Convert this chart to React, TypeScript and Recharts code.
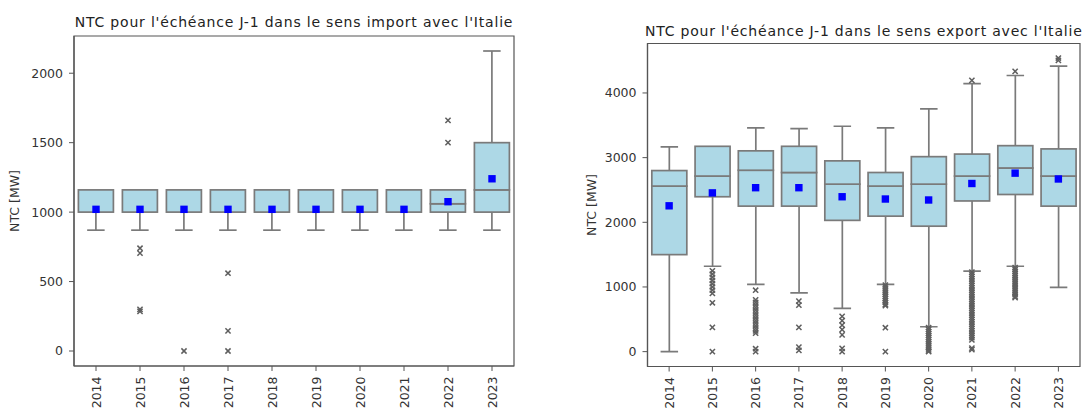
import { Bar, ComposedChart, ReferenceArea, Scatter, XAxis, YAxis } from "recharts";

const years = ["2014", "2015", "2016", "2017", "2018", "2019", "2020", "2021", "2022", "2023"];

// NTC J-1, import direction (MW)
const importLow = [870, 870, 870, 870, 870, 870, 870, 870, 870, 870];
const importQ1 = [1000, 1000, 1000, 1000, 1000, 1000, 1000, 1000, 1000, 1000];
const importMedian = [1000, 1000, 1000, 1000, 1000, 1000, 1000, 1000, 1060, 1160];
const importQ3 = [1160, 1160, 1160, 1160, 1160, 1160, 1160, 1160, 1160, 1500];
const importHigh = [1160, 1160, 1160, 1160, 1160, 1160, 1160, 1160, 1160, 2160];
const importMean = [1020, 1020, 1020, 1020, 1020, 1020, 1020, 1020, 1075, 1240];
const importFliers: Record<string, number[]> = {
  "2015": [740, 705, 300, 285],
  "2016": [0],
  "2017": [560, 145, 0],
  "2022": [1660, 1500],
};
const importTicks = [0, 500, 1000, 1500, 2000];
const importDomain: [number, number] = [-108, 2268];

// NTC J-1, export direction (MW)
const exportLow = [0, 1320, 1040, 910, 670, 1040, 385, 1245, 1320, 995];
const exportQ1 = [1500, 2395, 2250, 2250, 2030, 2095, 1940, 2330, 2430, 2250];
const exportMedian = [2560, 2715, 2805, 2770, 2590, 2560, 2590, 2715, 2840, 2715];
const exportQ3 = [2800, 3175, 3105, 3175, 2950, 2770, 3015, 3055, 3185, 3135];
const exportHigh = [3165, 3175, 3460, 3450, 3485, 3460, 3755, 4145, 4270, 4415];
const exportMean = [2255, 2455, 2535, 2535, 2395, 2360, 2345, 2600, 2760, 2670];
const exportFliers: Record<string, number[]> = {
  "2015": [1250, 1200, 1150, 1100, 1050, 1000, 950, 900, 755, 375, 0],
  "2016": [950, 800, 760, 720, 680, 640, 600, 560, 520, 480, 440, 400, 360, 320, 285, 45, 0],
  "2017": [780, 720, 375, 70, 20],
  "2018": [545, 480, 410, 340, 260, 50, 0],
  "2019": [1030, 1000, 970, 940, 910, 880, 850, 820, 790, 760, 730, 710, 370, 0],
  "2020": [370, 340, 310, 280, 250, 220, 190, 160, 130, 100, 70, 40, 10, 0],
  "2021": [
    4195, 1230, 1195, 1160, 1125, 1090, 1055, 1020, 985, 950, 915, 880, 845, 810, 775, 740, 705, 670,
    635, 600, 565, 530, 495, 460, 425, 390, 355, 320, 285, 250, 215, 180, 55, 30,
  ],
  "2022": [4335, 1300, 1270, 1240, 1210, 1180, 1150, 1120, 1090, 1060, 1030, 1000, 970, 940, 910, 880, 850, 835],
  "2023": [4540, 4505],
};
const exportTicks = [0, 1000, 2000, 3000, 4000];
const exportDomain: [number, number] = [-230, 4765];

const FONT = "'DejaVu Sans', sans-serif";
const BOX_FILL = "#add8e6";
const EDGE = "#7a7a7a";
const AXIS = "#555";
const TEXT = "#333";

type Stats = { low: number[]; q1: number[]; median: number[]; q3: number[]; high: number[]; mean: number[] };

// stacked segments: invisible base, lower whisker, two halves of the box, upper whisker
function buildRows(s: Stats) {
  return years.map((year, i) => ({
    year,
    base: s.low[i],
    lowerWhisker: s.q1[i] - s.low[i],
    lowerBox: s.median[i] - s.q1[i],
    upperBox: s.q3[i] - s.median[i],
    upperWhisker: s.high[i] - s.q3[i],
    mean: s.mean[i],
  }));
}

function buildFliers(f: Record<string, number[]>) {
  return years.flatMap((year) => (f[year] ?? []).map((value) => ({ year, value })));
}

const BoxHalf = (props: any) => {
  const { x, y, width, height } = props;
  if (height == null || height <= 0) return <g />;
  return <rect x={x} y={y} width={width} height={height} fill={BOX_FILL} stroke={EDGE} strokeWidth={1.7} />;
};

const LowerWhisker = (props: any) => {
  const { x, y, width, height } = props;
  if (height == null || height <= 0) return <g />;
  const cx = x + width / 2;
  const bottom = y + height;
  return (
    <g stroke={EDGE} strokeWidth={1.7}>
      <line x1={cx} x2={cx} y1={y} y2={bottom} />
      <line x1={cx - width / 4} x2={cx + width / 4} y1={bottom} y2={bottom} />
    </g>
  );
};

const UpperWhisker = (props: any) => {
  const { x, y, width, height } = props;
  if (height == null || height <= 0) return <g />;
  const cx = x + width / 2;
  return (
    <g stroke={EDGE} strokeWidth={1.7}>
      <line x1={cx} x2={cx} y1={y} y2={y + height} />
      <line x1={cx - width / 4} x2={cx + width / 4} y1={y} y2={y} />
    </g>
  );
};

const MeanMarker = (props: any) => {
  const { cx, cy } = props;
  if (cx == null || cy == null) return <g />;
  return <rect x={cx - 3.7} y={cy - 3.7} width={7.4} height={7.4} fill="#0000ff" />;
};

const FlierMarker = (props: any) => {
  const { cx, cy } = props;
  if (cx == null || cy == null) return <g />;
  const r = 2.6;
  return (
    <g stroke="#5e5e5e" strokeWidth={1.5}>
      <line x1={cx - r} x2={cx + r} y1={cy - r} y2={cy + r} />
      <line x1={cx - r} x2={cx + r} y1={cy + r} y2={cy - r} />
    </g>
  );
};

const YearTick = (props: any) => {
  const { x, y, payload } = props;
  const ty = y + 3.5;
  return (
    <text
      x={x}
      y={ty}
      transform={`rotate(-90 ${x} ${ty})`}
      textAnchor="end"
      dy="0.36em"
      fontSize={12.5}
      fontFamily={FONT}
      fill={TEXT}
    >
      {payload.value}
    </text>
  );
};

interface PanelProps {
  title: string;
  stats: Stats;
  fliers: Record<string, number[]>;
  domain: [number, number];
  ticks: number[];
  left: number;
  width: number;
  margin: { top: number; right: number; bottom: number; left: number };
  xAxisHeight: number;
  labelOffset: number;
  titleTop: number;
}

function BoxPanel({ title, stats, fliers, domain, ticks, left, width, margin, xAxisHeight, labelOffset, titleTop }: PanelProps) {
  const rows = buildRows(stats);
  const flierRows = buildFliers(fliers);
  const yAxisWidth = 60;
  const plotLeft = margin.left + yAxisWidth;
  const plotWidth = width - plotLeft - margin.right;

  return (
    <div style={{ position: "absolute", left, top: 0, width, height: 411 }}>
      <div
        style={{
          position: "absolute",
          left: plotLeft - 20,
          width: plotWidth + 40,
          top: titleTop,
          textAlign: "center",
          fontFamily: FONT,
          fontSize: 14,
          letterSpacing: 0.8,
          lineHeight: "16px",
          color: "#222",
          whiteSpace: "nowrap",
        }}
      >
        {title}
      </div>
      <ComposedChart width={width} height={411} data={rows} margin={margin} barCategoryGap="10%">
        <XAxis
          dataKey="year"
          type="category"
          allowDuplicatedCategory={false}
          interval={0}
          height={xAxisHeight}
          tickSize={5}
          tick={<YearTick />}
          axisLine={{ stroke: AXIS, strokeWidth: 1.2 }}
          tickLine={{ stroke: AXIS }}
        />
        <YAxis
          type="number"
          domain={domain}
          ticks={ticks}
          allowDataOverflow
          width={yAxisWidth}
          tickSize={5}
          tickMargin={6}
          tick={{ fontSize: 12.5, fill: TEXT, fontFamily: FONT }}
          axisLine={{ stroke: AXIS, strokeWidth: 1.2 }}
          tickLine={{ stroke: AXIS }}
          label={{
            value: "NTC [MW]",
            angle: -90,
            position: "insideLeft",
            offset: labelOffset,
            style: { textAnchor: "middle", fontSize: 12.5, fill: TEXT, fontFamily: FONT },
          }}
        />
        <Bar dataKey="base" stackId="box" fill="transparent" isAnimationActive={false} />
        <Bar dataKey="lowerWhisker" stackId="box" shape={LowerWhisker} isAnimationActive={false} />
        <Bar dataKey="lowerBox" stackId="box" shape={BoxHalf} isAnimationActive={false} />
        <Bar dataKey="upperBox" stackId="box" shape={BoxHalf} isAnimationActive={false} />
        <Bar dataKey="upperWhisker" stackId="box" shape={UpperWhisker} isAnimationActive={false} />
        <Scatter data={flierRows} dataKey="value" shape={FlierMarker} isAnimationActive={false} />
        <Scatter dataKey="mean" shape={MeanMarker} isAnimationActive={false} />
        <ReferenceArea y1={domain[0]} y2={domain[1]} fill="none" stroke={AXIS} strokeWidth={1.2} />
      </ComposedChart>
    </div>
  );
}

export default function App() {
  return (
    <div style={{ position: "absolute", left: 0, top: 0, width: 1083, height: 411, background: "#fff", overflow: "hidden" }}>
      <BoxPanel
        title="NTC pour l'échéance J-1 dans le sens import avec l'Italie"
        stats={{ low: importLow, q1: importQ1, median: importMedian, q3: importQ3, high: importHigh, mean: importMean }}
        fliers={importFliers}
        domain={importDomain}
        ticks={importTicks}
        left={0}
        width={540}
        margin={{ top: 36, right: 26, bottom: 0, left: 14 }}
        xAxisHeight={45}
        labelOffset={1}
        titleTop={14}
      />
      <BoxPanel
        title="NTC pour l'échéance J-1 dans le sens export avec l'Italie"
        stats={{ low: exportLow, q1: exportQ1, median: exportMedian, q3: exportQ3, high: exportHigh, mean: exportMean }}
        fliers={exportFliers}
        domain={exportDomain}
        ticks={exportTicks}
        left={560}
        width={523}
        margin={{ top: 43.5, right: 3, bottom: 0, left: 27.5 }}
        xAxisHeight={44.5}
        labelOffset={4.5}
        titleTop={22.5}
      />
    </div>
  );
}
